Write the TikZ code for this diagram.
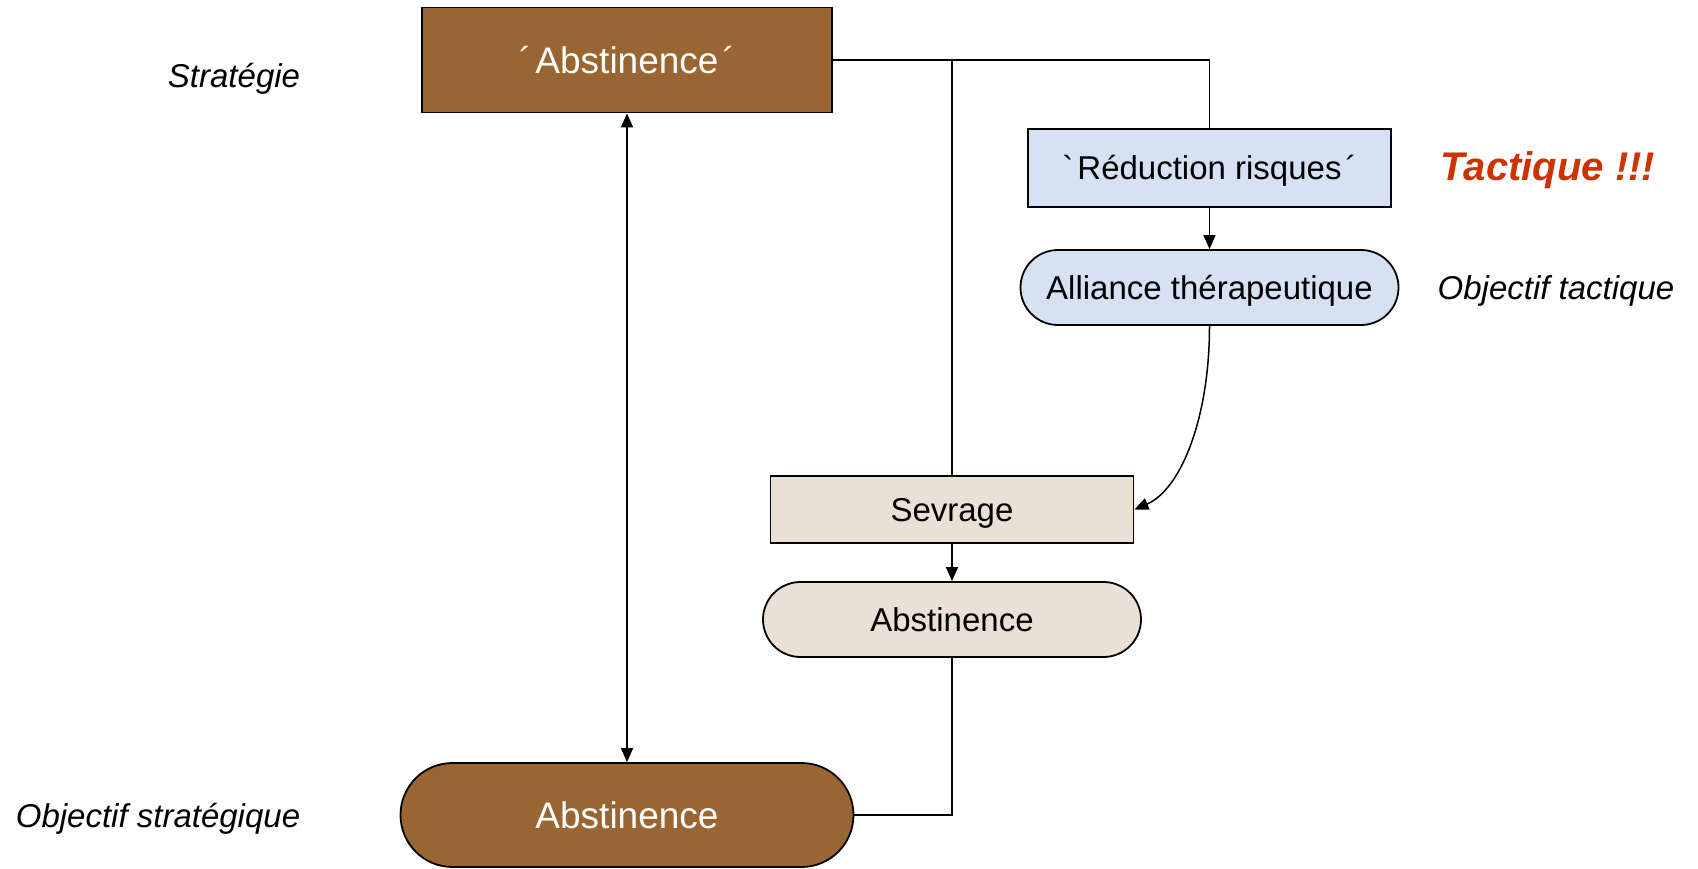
\documentclass[tikz,border=0pt]{standalone}
\usepackage{fontspec}
\setmainfont{Liberation Sans}
\usetikzlibrary{arrows.meta}
\definecolor{brownfill}{RGB}{153,102,51}
\definecolor{bluefill}{RGB}{214,225,244}
\definecolor{beigefill}{RGB}{234,224,213}
\definecolor{tactred}{RGB}{204,51,0}
\newcommand{\mygrave}{\XeTeXglyph\XeTeXglyphindex "grave"\relax}
\tikzset{
  box/.style={draw=black, line width=1.8pt, rectangle, inner sep=0pt},
  pill/.style={draw=black, line width=1.8pt, rectangle, inner sep=0pt},
  bigtxt/.style={font=\fontsize{37}{44}\selectfont, text height=28.5pt, text depth=1.8pt},
  midtxt/.style={font=\fontsize{33}{40}\selectfont, text height=25.4pt, text depth=1.6pt},
  lbl/.style={font=\fontsize{33}{40}\selectfont\itshape, text height=25.4pt, text depth=1.6pt},
  tacttxt/.style={font=\fontsize{40}{48}\selectfont\bfseries\itshape, text=tactred, text height=30.8pt, text depth=2pt},
  conn/.style={draw=black, line width=1.5pt},
  tip/.style={-{Triangle[length=14pt,width=12pt]}},
}
\begin{document}
\begin{tikzpicture}[x=1pt,y=-1pt]
\useasboundingbox (0,0) rectangle (1698,869);
% nodes
\node[box, fill=brownfill, text=white, bigtxt, minimum width=410pt, minimum height=105pt] (top) at (627,60) {´\hspace{4pt}Abstinence\hspace{4pt}´};
\node[box, fill=bluefill, midtxt, minimum width=363pt, minimum height=78pt] (red) at (1209.5,168) {\mygrave\hspace{4pt}Réduction risques\hspace{4pt}´};
\node[pill, rounded corners=37.5pt, fill=bluefill, midtxt, minimum width=378pt, minimum height=75pt] (alli) at (1209.5,287.5) {Alliance thérapeutique};
\node[box, fill=beigefill, midtxt, minimum width=363pt, minimum height=67pt] (sev) at (952,509.5) {Sevrage};
\node[pill, rounded corners=37.5pt, fill=beigefill, midtxt, minimum width=378pt, minimum height=75pt] (abs2) at (952,619.5) {Abstinence};
\node[pill, rounded corners=52pt, fill=brownfill, text=white, bigtxt, minimum width=453pt, minimum height=104pt] (abs1) at (627,815) {Abstinence};
% labels
\node[lbl] (strat) at (234,76) {Stratégie};
\node[lbl] (objstrat) at (158,816) {Objectif stratégique};
\node[tacttxt] (tact) at (1548,166) {Tactique !!!};
\node[lbl] (objtact) at (1556,288) {Objectif tactique};
% connectors
\coordinate (j1) at (952,60);
\coordinate (j2) at (1209.5,60);
\coordinate (j3) at (952,815);
\draw[conn] (top.east) -- (j1) -- (j2) -- (red.north);
\draw[conn] (j1) -- (sev.north);
\draw[conn, tip] (red.south) -- (alli.north);
\draw[conn, tip] (alli.south) .. controls (1209.5,420) and (1180,490) .. (sev.east);
\draw[conn, tip] (sev.south) -- (abs2.north);
\draw[conn] (abs2.south) -- (j3) -- (abs1.east);
\draw[conn, {Triangle[length=14pt,width=12pt]}-{Triangle[length=14pt,width=12pt]}] (top.south) -- (abs1.north);
\end{tikzpicture}
\end{document}
